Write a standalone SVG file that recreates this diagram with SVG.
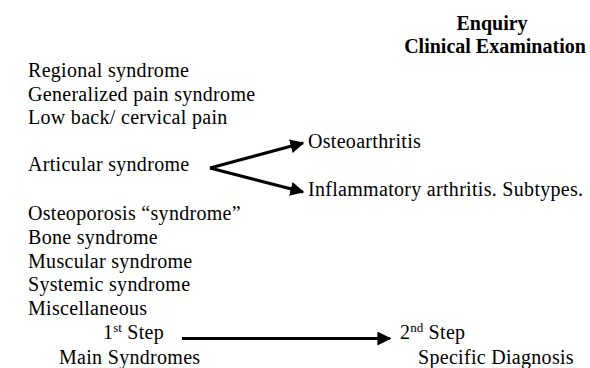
<svg xmlns="http://www.w3.org/2000/svg" width="590" height="368" viewBox="0 0 590 368">
<style>
text{font-family:"Liberation Serif","Times New Roman",serif;font-size:20px;fill:#000;letter-spacing:0.3px}
.b{font-weight:bold;letter-spacing:0}
.sup{font-size:13px;letter-spacing:0}
.c{stroke:#000;stroke-width:3;fill:none}
</style>
<defs>
<marker id="ah" viewBox="0 0 10 10" refX="9" refY="5" markerWidth="14" markerHeight="14" orient="auto" markerUnits="userSpaceOnUse">
<path d="M0,0 L10,5 L0,10 Z" fill="#000"/>
</marker>
</defs>
<rect width="590" height="368" fill="#fff"/>
<g id="header">
<text class="b" x="492" y="30" text-anchor="middle">Enquiry</text>
<text class="b" x="495" y="53" text-anchor="middle">Clinical Examination</text>
</g>
<g id="syndromes">
<text x="28" y="77">Regional syndrome</text>
<text x="28" y="100.5">Generalized pain syndrome</text>
<text x="28" y="124">Low back/ cervical pain</text>
<text x="28" y="171">Articular syndrome</text>
<text x="28" y="220">Osteoporosis “syndrome”</text>
<text x="28" y="244">Bone syndrome</text>
<text x="28" y="267.5">Muscular syndrome</text>
<text x="28" y="291">Systemic syndrome</text>
<text x="28" y="314.5">Miscellaneous</text>
</g>
<g id="osteoarthritis"><text x="308" y="148">Osteoarthritis</text></g>
<g id="inflammatory"><text x="308" y="196">Inflammatory arthritis. Subtypes.</text></g>
<g id="step1">
<text x="103" y="339">1<tspan class="sup" dy="-7">st</tspan><tspan dy="7"> Step</tspan></text>
<text x="59" y="364">Main Syndromes</text>
</g>
<g id="step2">
<text x="400" y="339">2<tspan class="sup" dy="-7">nd</tspan><tspan dy="7"> Step</tspan></text>
<text x="418" y="364">Specific Diagnosis</text>
</g>
<g id="connectors">
<line class="c" x1="210" y1="168" x2="303" y2="143" marker-end="url(#ah)"/>
<line class="c" x1="210" y1="168" x2="303" y2="192" marker-end="url(#ah)"/>
<line class="c" x1="182" y1="338.5" x2="390" y2="338.5" stroke-width="2.5" marker-end="url(#ah)"/>
</g>
</svg>
